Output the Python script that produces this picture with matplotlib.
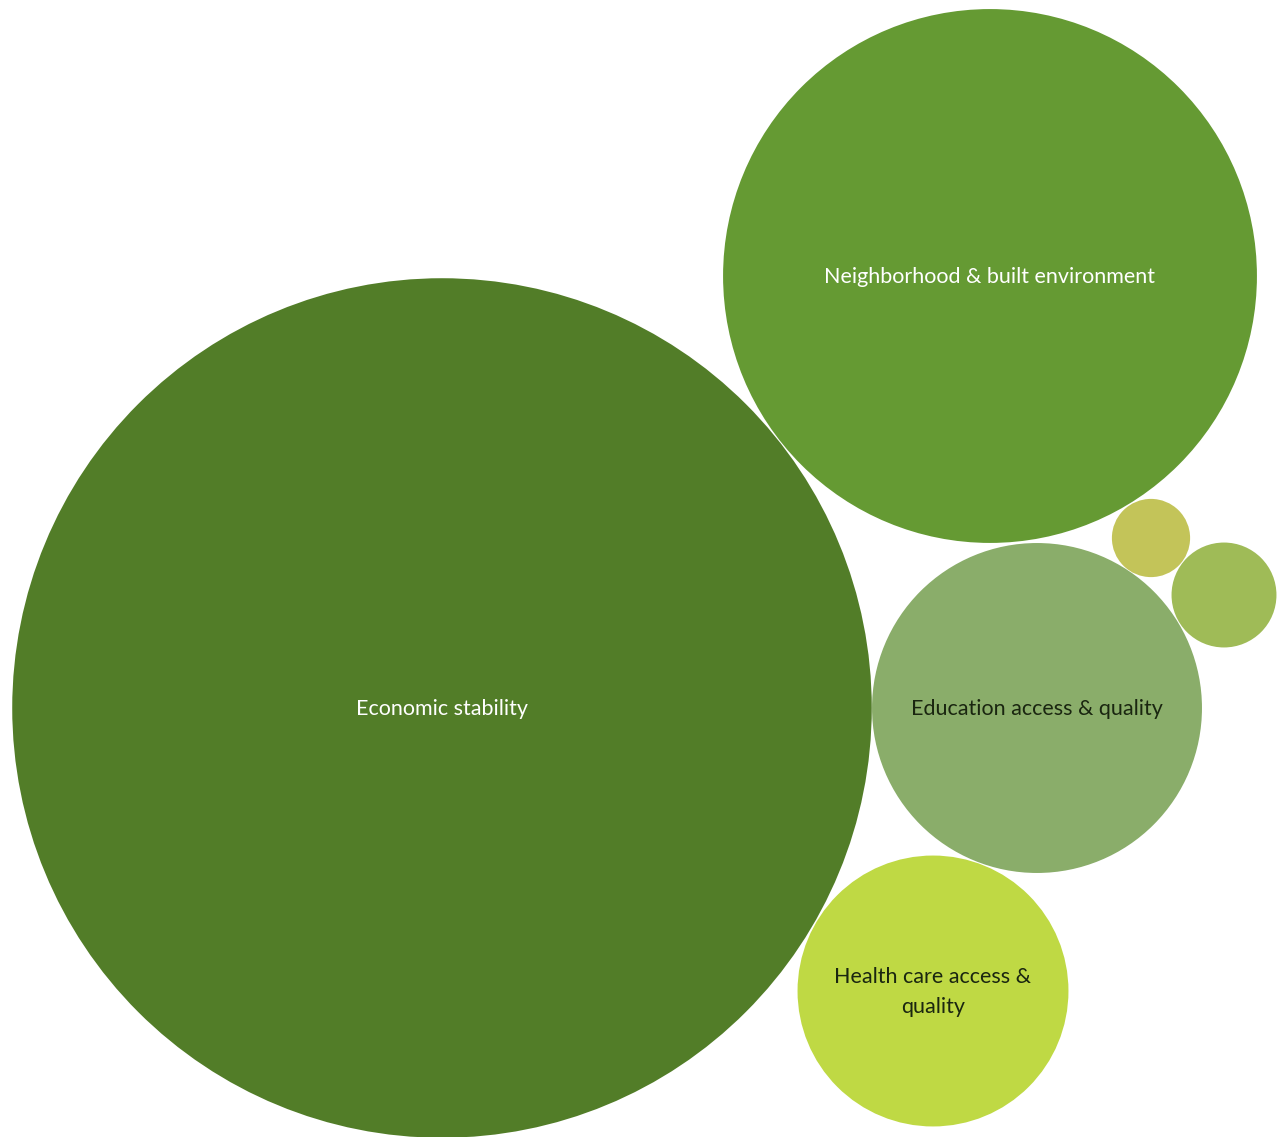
import matplotlib
matplotlib.use("Agg")
import matplotlib.pyplot as plt
from matplotlib.patches import Circle
import numpy as np

# Social determinants share (bubble area, %)
labels = ["Economic stability", "Neighborhood & built environment",
          "Education access & quality", "Health care access &\nquality", "", ""]
values = [60.4, 23.3, 8.9, 6.0, 0.5, 0.9]

# packed layout (pixel coords, y down)
centers_x = [442, 990, 1037, 933, 1151, 1224]
centers_y = [708, 276, 708, 991, 538, 595]
colors = ["#527d28", "#659a33", "#8aad6a", "#bfd944", "#c3c459", "#9fbb57"]
text_colors = ["white", "white", "#1a2610", "#1a2610", "black", "black"]

RADIUS_SCALE = 55.3  # px per sqrt(%)

fig = plt.figure(figsize=(12.81, 11.37), dpi=100)
ax = fig.add_axes([0, 0, 1, 1])
ax.set_xlim(0, 1281)
ax.set_ylim(1137, 0)
ax.set_aspect("equal")
ax.axis("off")

for lab, v, cx, cy, c, tc in zip(labels, values, centers_x, centers_y, colors, text_colors):
    r = RADIUS_SCALE * np.sqrt(v)
    ax.add_patch(Circle((cx, cy), r, facecolor=c, edgecolor="none"))
    if lab:
        ax.text(cx, cy + 1, lab, ha="center", va="center", color=tc,
                fontsize=15.5, family="Lato", linespacing=1.6)

fig.savefig("out.png", dpi=100, facecolor="white")
